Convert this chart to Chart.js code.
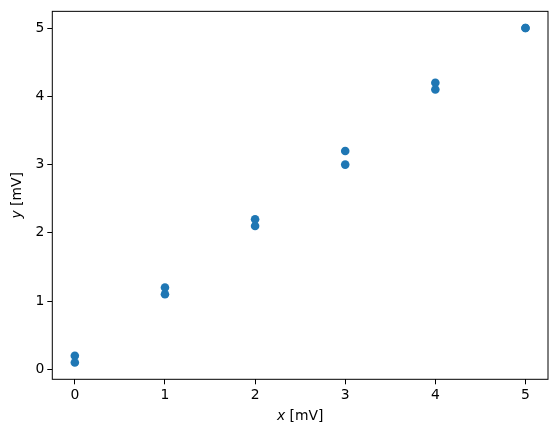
<!DOCTYPE html>
<html>
<head>
<meta charset="utf-8">
<script src="https://cdn.jsdelivr.net/npm/chart.js@4"></script>
<style>
  html, body { margin: 0; padding: 0; background: #fff; }
  #wrap { width: 558px; height: 435px; }
</style>
</head>
<body>
<div id="wrap"><canvas id="chart" width="558" height="435"></canvas></div>
<script>
const xValues = [0, 0, 1, 1, 2, 2, 3, 3, 4, 4, 5, 5];
const yValues = [0.1, 0.2, 1.1, 1.2, 2.1, 2.2, 3.0, 3.2, 4.1, 4.2, 5.0, 5.0];
const xTicks = [0, 1, 2, 3, 4, 5];
const yTicks = [0, 1, 2, 3, 4, 5];

const points = xValues.map((x, i) => ({ x: x, y: yValues[i] }));
const font = { family: "'DejaVu Sans', sans-serif", size: 13.9 };

// frame + axis titles like matplotlib ($x$ italic)
const frameAndTitles = {
  id: "frameAndTitles",
  afterDraw(chart) {
    const ctx = chart.ctx;
    const a = chart.chartArea;
    ctx.save();
    ctx.strokeStyle = "#000";
    ctx.lineWidth = 1;
    ctx.strokeRect(a.left, a.top, a.right - a.left, a.bottom - a.top);

    ctx.fillStyle = "#000";
    ctx.textBaseline = "middle";
    // x title
    let cx = (a.left + a.right) / 2;
    ctx.font = "italic 13.9px 'DejaVu Sans', sans-serif";
    let w1 = ctx.measureText("x").width;
    ctx.font = "13.9px 'DejaVu Sans', sans-serif";
    let w2 = ctx.measureText(" [mV]").width;
    let sx = cx - (w1 + w2) / 2;
    ctx.textAlign = "left";
    ctx.font = "italic 13.9px 'DejaVu Sans', sans-serif";
    ctx.fillText("x", sx, 416);
    ctx.font = "13.9px 'DejaVu Sans', sans-serif";
    ctx.fillText(" [mV]", sx + w1, 416);

    // y title (rotated)
    let cy = (a.top + a.bottom) / 2;
    ctx.translate(17, cy);
    ctx.rotate(-Math.PI / 2);
    ctx.font = "italic 13.9px 'DejaVu Sans', sans-serif";
    w1 = ctx.measureText("y").width;
    ctx.font = "13.9px 'DejaVu Sans', sans-serif";
    w2 = ctx.measureText(" [mV]").width;
    sx = -(w1 + w2) / 2;
    ctx.font = "italic 13.9px 'DejaVu Sans', sans-serif";
    ctx.fillText("y", sx, 0);
    ctx.font = "13.9px 'DejaVu Sans', sans-serif";
    ctx.fillText(" [mV]", sx + w1, 0);
    ctx.restore();
  }
};

new Chart(document.getElementById("chart"), {
  type: "scatter",
  data: {
    datasets: [
      {
        data: points,
        backgroundColor: "#1f77b4",
        borderWidth: 0,
        pointRadius: 4.3,
        pointHoverRadius: 4.3,
      },
    ],
  },
  options: {
    responsive: false,
    animation: false,
    layout: { padding: { left: 0, right: 10, top: 10.7, bottom: 0 } },
    plugins: { legend: { display: false }, tooltip: { enabled: false } },
    scales: {
      x: {
        type: "linear",
        min: -0.25,
        max: 5.25,
        afterBuildTicks: (s) => { s.ticks = xTicks.map((v) => ({ value: v })); },
        afterFit: (s) => { s.height = 435 - 379.3; },
        grid: { drawOnChartArea: false, drawTicks: true, tickLength: 5, color: "#000", tickWidth: 1 },
        border: { display: false },
        ticks: { color: "#000", font: font, padding: 3, maxRotation: 0 },
      },
      y: {
        type: "linear",
        min: -0.145,
        max: 5.245,
        afterBuildTicks: (s) => { s.ticks = yTicks.map((v) => ({ value: v })); },
        afterFit: (s) => { s.width = 52.3; },
        grid: { drawOnChartArea: false, drawTicks: true, tickLength: 5, color: "#000", tickWidth: 1 },
        border: { display: false },
        ticks: { color: "#000", font: font, padding: 3 },
      },
    },
  },
  plugins: [frameAndTitles],
});
</script>
</body>
</html>
